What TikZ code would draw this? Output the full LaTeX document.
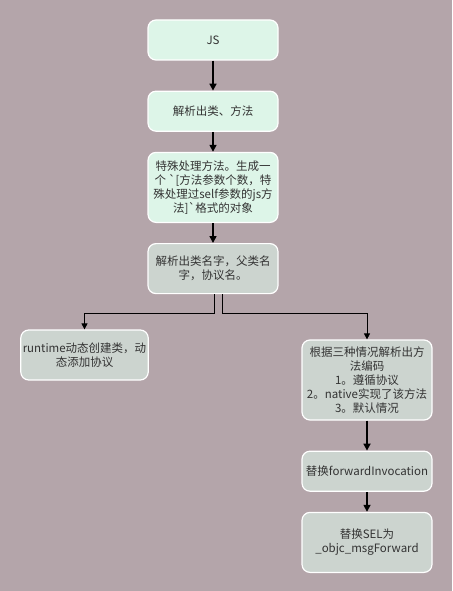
\documentclass[tikz,border=0pt]{standalone}
\usepackage{fontspec}
\setmainfont{Noto Sans CJK SC}
\usetikzlibrary{arrows.meta,positioning}
\definecolor{Backdrop}{HTML}{B4A5AA}
\definecolor{Mint}{HTML}{DDF5E8}
\definecolor{Sage}{HTML}{CCD4CF}
\definecolor{Ink}{HTML}{333333}

\begin{document}
\begin{tikzpicture}[
  x=1pt,y=1pt,
  node distance=20pt,
  base/.style={rounded corners=8pt,draw=white,line width=1.2pt,minimum width=130pt,align=center,font=\fontsize{11.5}{14}\selectfont,text=Ink,inner sep=2pt},
  fresh/.style={base,fill=Mint},
  plain/.style={base,fill=Sage},
  arrow/.style={-{Triangle[width=7pt,length=7pt]},line width=1.6pt,draw=black},
  branch/.style={-{Triangle[width=6pt,length=6pt]},line width=0.8pt,draw=black}
]
\fill[Backdrop] (0,0) rectangle (452,-591);
\useasboundingbox (0,0) rectangle (452,-591);
\node[fresh,minimum height=40pt] (js) at (213,-40) {JS};
\node[fresh,minimum height=40pt,below=30pt of js] (parse) {解析出类、方法};
\node[fresh,minimum height=70pt,below=of parse] (special) {特殊处理方法。生成一\\个 \textasciigrave[方法参数个数，特\\殊处理过self参数的js方\\法]\textasciigrave 格式的对象};
\node[plain,minimum height=50pt,below=of special] (names) {解析出类名字，父类名\\字，协议名。};
\node[plain,minimum width=127pt,minimum height=50pt] (runtime) at (84.5,-355) {runtime动态创建类，动\\态添加协议};
\node[plain,minimum height=80pt] (encode) at (367,-380) {根据三种情况解析出方\\法编码\\1。遵循协议\\2。native实现了该方法\\3。默认情况};
\node[plain,minimum height=40pt,below=30pt of encode] (forward) {替换forwardInvocation};
\node[plain,minimum height=60pt,below=of forward] (sel) {替换SEL为\\\_objc\_msgForward};
\draw[arrow] (js) -- (parse);
\draw[arrow] (parse) -- (special);
\draw[arrow] (special) -- (names);
\draw[branch] ([xshift=1pt]names.south) -- ++(0,-19) -| (runtime.north);
\draw[branch] ([xshift=9pt]names.south) -- ++(0,-19) -| (encode.north);
\draw[arrow] (encode) -- (forward);
\draw[arrow] (forward) -- (sel);
\end{tikzpicture}
\end{document}
